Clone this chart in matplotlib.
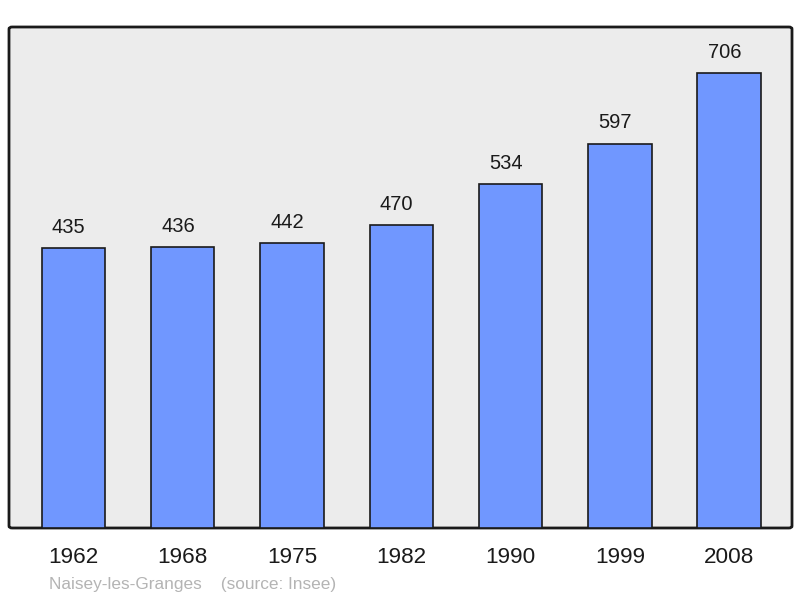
import matplotlib.pyplot as plt
from matplotlib.patches import FancyBboxPatch

years = ['1962', '1968', '1975', '1982', '1990', '1999', '2008']
population = [435, 436, 442, 470, 534, 597, 706]
town = 'Naisey-les-Granges'
source = '(source: Insee)'

plt.rcParams['font.family'] = ['Liberation Sans', 'DejaVu Sans']

fig = plt.figure(figsize=(8, 5.98), dpi=100)
ax = fig.add_axes([9 / 800, 70 / 598, 783 / 800, 501 / 598])
ax.patch.set_visible(False)

# rounded frame behind the bars
frame = FancyBboxPatch((0, 0), 1, 1, boxstyle='round,pad=0,rounding_size=0.004',
                       transform=ax.transAxes, facecolor='#ececec',
                       edgecolor='#1a1a1a', linewidth=2, zorder=0, clip_on=False)
ax.add_patch(frame)

x = list(range(len(years)))
ax.bar(x, population, width=0.58, color='#7097ff', edgecolor='#1a1a1a',
       linewidth=1.2, zorder=2)
for xi, v in zip(x, population):
    ax.annotate(str(v), (xi, v), xytext=(-3.5, 8), textcoords='offset points',
                ha='center', va='bottom', fontsize=14.5, color='#1a1a1a')

ax.set_xlim(-0.59, 6.575)
ax.set_ylim(0, 778)
ax.set_xticks(x)
ax.set_xticklabels(years, fontsize=16.2, color='#1a1a1a')
ax.tick_params(axis='x', length=0, pad=14)
ax.set_yticks([])
for s in ax.spines.values():
    s.set_visible(False)

fig.text(49 / 800, 1 - 585 / 598, town + '    ' + source, fontsize=12.4,
         color='#b4b4b4', ha='left', va='center')

fig.savefig('out.png', dpi=100)
